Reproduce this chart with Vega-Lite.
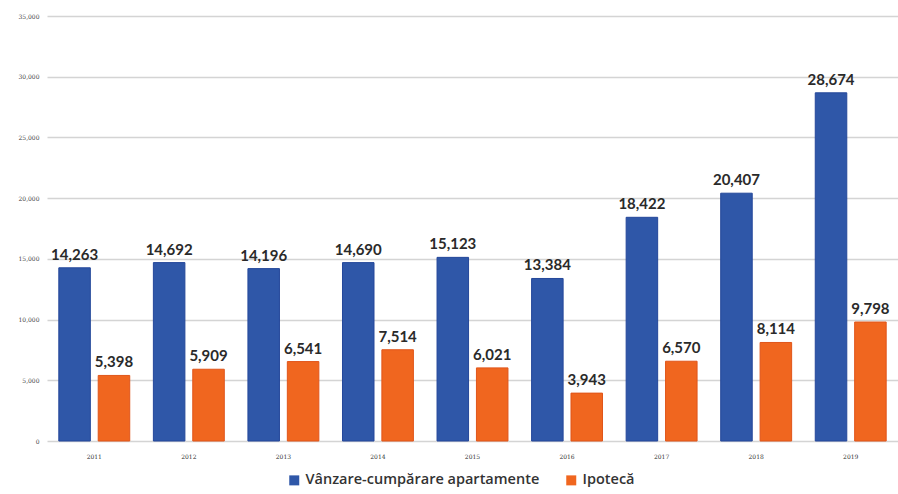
{
  "$schema": "https://vega.github.io/schema/vega-lite/v6.json",
  "autosize": {"type": "none"},
  "padding": {"left": 47, "top": 16, "right": 0, "bottom": 53},
  "width": 851,
  "height": 425,
  "background": "white",
  "data": {"values": [
    {"an": "2011", "serie": "Vânzare-cumpărare apartamente", "v": 14263},
    {"an": "2011", "serie": "Ipotecă", "v": 5398},
    {"an": "2012", "serie": "Vânzare-cumpărare apartamente", "v": 14692},
    {"an": "2012", "serie": "Ipotecă", "v": 5909},
    {"an": "2013", "serie": "Vânzare-cumpărare apartamente", "v": 14196},
    {"an": "2013", "serie": "Ipotecă", "v": 6541},
    {"an": "2014", "serie": "Vânzare-cumpărare apartamente", "v": 14690},
    {"an": "2014", "serie": "Ipotecă", "v": 7514},
    {"an": "2015", "serie": "Vânzare-cumpărare apartamente", "v": 15123},
    {"an": "2015", "serie": "Ipotecă", "v": 6021},
    {"an": "2016", "serie": "Vânzare-cumpărare apartamente", "v": 13384},
    {"an": "2016", "serie": "Ipotecă", "v": 3943},
    {"an": "2017", "serie": "Vânzare-cumpărare apartamente", "v": 18422},
    {"an": "2017", "serie": "Ipotecă", "v": 6570},
    {"an": "2018", "serie": "Vânzare-cumpărare apartamente", "v": 20407},
    {"an": "2018", "serie": "Ipotecă", "v": 8114},
    {"an": "2019", "serie": "Vânzare-cumpărare apartamente", "v": 28674},
    {"an": "2019", "serie": "Ipotecă", "v": 9798}
  ]},
  "encoding": {
    "x": {"field": "an", "type": "nominal", "title": null,
      "scale": {"paddingInner": 0.25, "paddingOuter": 0.125},
      "axis": {"labelAngle": 0, "labelFont": "DejaVu Serif", "labelFontSize": 6, "labelColor": "#333", "domain": false, "ticks": false, "labelPadding": 12}},
    "xOffset": {"field": "serie", "type": "nominal", "sort": ["Vânzare-cumpărare apartamente", "Ipotecă"], "scale": {"paddingInner": 0.2}},
    "y": {"field": "v", "type": "quantitative", "title": null,
      "scale": {"domain": [0, 35000]},
      "axis": {"values": [0, 5000, 10000, 15000, 20000, 25000, 30000, 35000], "format": ",d", "labelFont": "DejaVu Serif", "labelFontSize": 6, "labelColor": "#444", "domain": false, "ticks": false, "labelPadding": 8, "gridColor": "#d4d4d4", "gridWidth": 1.5}}
  },
  "layer": [
    {
      "mark": {"type": "bar", "strokeWidth": 1},
      "encoding": {
        "color": {"field": "serie", "type": "nominal", "sort": ["Vânzare-cumpărare apartamente", "Ipotecă"],
          "scale": {"domain": ["Vânzare-cumpărare apartamente", "Ipotecă"], "range": ["#2F57A8", "#F0661F"]},
          "legend": {"title": null, "orient": "none", "legendX": 240, "legendY": 457, "direction": "horizontal", "symbolType": "square", "symbolSize": 100, "symbolStrokeWidth": 0, "labelFont": "Open Sans", "labelFontWeight": 600, "labelFontSize": 14.5, "labelColor": "#333", "labelLimit": 0, "columnPadding": 24, "labelOffset": 4}},
        "stroke": {"field": "serie", "type": "nominal", "scale": {"domain": ["Vânzare-cumpărare apartamente", "Ipotecă"], "range": ["#24479A", "#E0551A"]}, "legend": null}
      }
    },
    {
      "mark": {"type": "text", "dy": -13, "font": "Lato", "fontWeight": "bold", "fontSize": 15, "color": "#2a2a2a"},
      "encoding": {"text": {"field": "v", "type": "quantitative", "format": ",d"}}
    }
  ],
  "config": {"view": {"stroke": null}}
}
